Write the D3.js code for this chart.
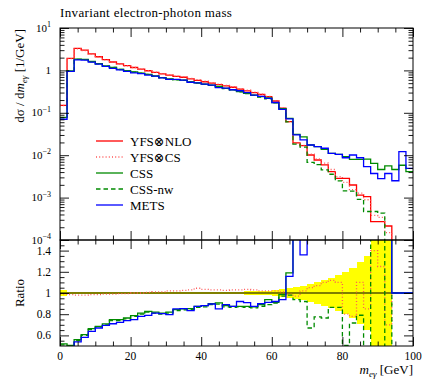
<!DOCTYPE html>
<html><head><meta charset="utf-8">
<script src="https://cdn.jsdelivr.net/npm/d3@7/dist/d3.min.js"></script>
<style>
body{margin:0;background:#fff}
svg{display:block}
text{font-family:"Liberation Serif","DejaVu Serif",serif;fill:#000}
</style>
</head><body>
<svg id="chart" width="424" height="379"></svg>
<script>
// Lower bin edges (GeV); every bin is 2 GeV wide, the last one ends at 100.
const binLow = [0,2,4,6,8,10,12,14,16,18,20,22,24,26,28,30,32,34,36,38,
  40,42,44,46,48,50,52,54,56,58,60,62,64,66,68,70,72,74,76,78,
  80,82,84,86,88,90,92,94,96,98];
const binHigh = 100;

// dσ/dm_eγ [1/GeV]
const yfsNlo = [0.15,1.93,3.3,3.0,2.45,2.1,1.8,1.58,1.42,1.29,
  1.17,1.07,0.98,0.90,0.83,0.77,0.72,0.69,0.63,0.58,
  0.54,0.50,0.46,0.43,0.40,0.36,0.33,0.30,0.27,0.24,
  0.19,0.128,0.062,0.0195,0.0168,0.0101,0.0077,0.0059,0.0041,0.00285,
  0.00285,0.00198,0.00115,0.00105,0.00027,0.00027,0.000214,0,0,0];
const yfsCs = [0.1485,1.90,3.23,2.94,2.41,2.07,1.78,1.56,1.41,1.28,
  1.17,1.07,0.985,0.909,0.838,0.785,0.734,0.707,0.649,0.606,
  0.559,0.515,0.474,0.441,0.412,0.371,0.342,0.309,0.275,0.245,
  0.194,0.129,0.0614,0.0189,0.0171,0.0106,0.0082,0.0065,0.0046,0.00314,
  0.00228,0.00154,0.00127,0.00089,0.00038,0.00034,0.00015,0,0,0];
const css = [0.078,0.977,1.85,1.82,1.63,1.44,1.27,1.18,1.06,0.986,
  0.92,0.867,0.81,0.738,0.672,0.631,0.607,0.587,0.537,0.507,
  0.475,0.45,0.417,0.378,0.35,0.315,0.288,0.261,0.24,0.225,
  0.173,0.126,0.074,0.031,0.027,0.0174,0.0159,0.0137,0.0111,0.0105,
  0.0092,0.0080,0.0080,0.0081,0.0064,0.0046,0.0056,0.0046,0.0058,0.0041];
const cssNw = [0.0765,0.965,1.815,1.80,1.60,1.43,1.26,1.17,1.05,0.974,
  0.913,0.856,0.804,0.729,0.664,0.624,0.601,0.580,0.532,0.502,
  0.470,0.445,0.412,0.374,0.346,0.313,0.285,0.258,0.236,0.214,
  0.172,0.124,0.0608,0.0183,0.0155,0.0068,0.0060,0.0045,0.00355,0.00247,
  0.00144,0.00142,0.00091,0.00047,0.00047,0.00043,0.00004,0,0,0];
const mets = [0.0705,0.946,1.78,1.75,1.56,1.41,1.25,1.12,1.03,0.953,
  0.876,0.835,0.773,0.729,0.668,0.613,0.612,0.589,0.525,0.507,
  0.475,0.448,0.391,0.383,0.35,0.331,0.30,0.262,0.243,0.219,
  0.175,0.12,0.0717,0.030,0.0229,0.0174,0.0159,0.0146,0.0111,0.0105,
  0.0087,0.0101,0.0087,0.0054,0.0037,0.0028,0.0037,0.0025,0.0121,0.0049];

// Ratios to YFS⊗NLO (bins where the reference is empty are shown at 1)
const ratioYfsCs = [0.99,0.985,0.98,0.98,0.985,0.985,0.99,0.99,0.995,0.995,
  1.0,1.0,1.005,1.01,1.01,1.02,1.02,1.025,1.03,1.045,
  1.035,1.03,1.03,1.025,1.03,1.03,1.035,1.03,1.02,1.02,
  1.02,1.01,0.99,0.97,1.02,1.05,1.07,1.1,1.12,1.1,
  0.8,0.78,1.1,0.85,1.4,1.25,0.7,1,1,1];
const ratioCss = [0.52,0.506,0.56,0.607,0.664,0.686,0.708,0.749,0.749,0.764,
  0.786,0.81,0.827,0.82,0.81,0.82,0.843,0.85,0.853,0.874,
  0.88,0.9,0.906,0.88,0.874,0.874,0.874,0.87,0.89,0.937,
  0.912,0.985,1.19,2,2,2,2,2,2,2,
  2,2,2,2,2,2,2,1,1,1];
const ratioCssNw = [0.51,0.50,0.55,0.60,0.655,0.68,0.70,0.74,0.74,0.755,
  0.78,0.80,0.82,0.81,0.80,0.81,0.835,0.84,0.845,0.865,
  0.87,0.89,0.895,0.87,0.865,0.87,0.865,0.86,0.875,0.89,
  0.905,0.97,0.98,0.937,0.92,0.67,0.774,0.764,0.865,0.865,
  0.506,0.717,0.79,0.45,2,2,0.2,1,1,1];
const ratioMets = [0.47,0.49,0.538,0.582,0.638,0.67,0.695,0.71,0.723,0.739,
  0.749,0.78,0.789,0.81,0.805,0.796,0.85,0.853,0.834,0.874,
  0.88,0.896,0.85,0.89,0.874,0.92,0.91,0.874,0.9,0.912,
  0.92,0.937,1.157,2,1.36,2,2,2,2,2,
  2,2,2,2,2,2,2,1,1,1];
// Half-width of the YFS⊗NLO uncertainty band in the ratio
const bandHalf = [0.027,0.012,0.01,0.01,0.01,0.01,0.01,0.01,0.01,0.01,
  0.01,0.01,0.01,0.01,0.01,0.01,0.01,0.01,0.01,0.01,
  0.012,0.012,0.012,0.012,0.012,0.012,0.015,0.015,0.015,0.02,
  0.025,0.035,0.05,0.06,0.07,0.085,0.1,0.12,0.14,0.17,
  0.2,0.24,0.29,0.35,1,1,1,0,0,0];

const xMajor = [0,20,40,60,80,100];
const xMinor = [5,10,15,25,30,35,45,50,55,65,70,75,85,90,95];
const yDecades = [1e-4,1e-3,1e-2,1e-1,1,10];
const rMajor = [0.6,0.8,1,1.2,1.4];
const rLabels = ["0.6","0.8","1","1.2","1.4"];

const series = [
  {name:"YFS⊗NLO", top:yfsNlo, ratio:null, color:"#ff0000", dash:null},
  {name:"YFS⊗CS", top:yfsCs, ratio:ratioYfsCs, color:"#ff5555", dash:"1,2.2"},
  {name:"CSS", top:css, ratio:ratioCss, color:"#008a00", dash:null},
  {name:"CSS-nw", top:cssNw, ratio:ratioCssNw, color:"#008a00", dash:"4.5,3"},
  {name:"METS", top:mets, ratio:ratioMets, color:"#0000ff", dash:null}
];

const L = 60, R = 413, T = 28, M = 240, B = 346;
const svg = d3.select("#chart");
const x = d3.scaleLinear().domain([0, 100]).range([L, R]);
const y = d3.scaleLog().domain([1e-4, 10]).range([M, T]);
const yr = d3.scaleLinear().domain([0.5, 1.5]).range([B, M]);

const defs = svg.append("defs");
defs.append("clipPath").attr("id","clipTop").append("rect")
  .attr("x", L).attr("y", T).attr("width", R - L).attr("height", M - T);
defs.append("clipPath").attr("id","clipRatio").append("rect")
  .attr("x", L).attr("y", M).attr("width", R - L).attr("height", B - M);

function stepPoints(vals) {
  const pts = binLow.map((lo, i) => [lo, vals[i]]);
  pts.push([binHigh, vals[vals.length - 1]]);
  return pts;
}
const topLine = d3.line()
  .x(d => x(d[0]))
  .y(d => d[1] > 0 ? y(d[1]) : M + 60)
  .curve(d3.curveStepAfter);
const ratioLine = d3.line()
  .x(d => x(d[0]))
  .y(d => yr(d[1]))
  .curve(d3.curveStepAfter);

// ---- main panel ----
const gTop = svg.append("g").attr("clip-path","url(#clipTop)");
series.forEach(s => {
  gTop.append("path")
    .attr("d", topLine(stepPoints(s.top)))
    .attr("fill","none").attr("stroke", s.color).attr("stroke-width", 1.3)
    .attr("stroke-dasharray", s.dash);
});

// ---- ratio panel ----
const gRat = svg.append("g").attr("clip-path","url(#clipRatio)");
gRat.selectAll("rect.band").data(binLow).join("rect")
  .attr("class","band")
  .attr("x", d => x(d))
  .attr("width", (d) => x(d + 2) - x(d))
  .attr("y", (d, i) => yr(1 + bandHalf[i]))
  .attr("height", (d, i) => yr(1 - bandHalf[i]) - yr(1 + bandHalf[i]))
  .attr("fill", "#ffff00")
  .attr("shape-rendering","crispEdges");
gRat.append("line")
  .attr("x1", x(0)).attr("x2", x(100)).attr("y1", yr(1)).attr("y2", yr(1))
  .attr("stroke","#000").attr("stroke-width",1.2);
series.filter(s => s.ratio).forEach(s => {
  gRat.append("path")
    .attr("d", ratioLine(stepPoints(s.ratio)))
    .attr("fill","none").attr("stroke", s.color).attr("stroke-width", 1.3)
    .attr("stroke-dasharray", s.dash);
});

// ---- frames and ticks ----
function ticks(axisFn, scale, values, size, transform) {
  const g = svg.append("g").attr("transform", transform)
    .call(axisFn(scale).tickValues(values).tickSize(-size).tickFormat(""));
  g.select(".domain").remove();
  g.selectAll("line").attr("stroke","#000").attr("stroke-width",0.9);
}
const yMinor = [];
yDecades.slice(0, -1).forEach(d => { for (let k = 2; k <= 9; k++) yMinor.push(d * k); });
const rMinor = [0.55,0.65,0.7,0.75,0.85,0.9,0.95,1.05,1.1,1.15,1.25,1.3,1.35,1.45];

// main panel ticks
ticks(d3.axisLeft, y, yDecades, 9, `translate(${L},0)`);
ticks(d3.axisLeft, y, yMinor, 4.5, `translate(${L},0)`);
ticks(d3.axisRight, y, yDecades, 9, `translate(${R},0)`);
ticks(d3.axisRight, y, yMinor, 4.5, `translate(${R},0)`);
ticks(d3.axisTop, x, xMajor, 9, `translate(0,${T})`);
ticks(d3.axisTop, x, xMinor, 4.5, `translate(0,${T})`);
ticks(d3.axisBottom, x, xMajor, 9, `translate(0,${M})`);
ticks(d3.axisBottom, x, xMinor, 4.5, `translate(0,${M})`);
// ratio panel ticks
ticks(d3.axisLeft, yr, rMajor, 9, `translate(${L},0)`);
ticks(d3.axisLeft, yr, rMinor, 4.5, `translate(${L},0)`);
ticks(d3.axisRight, yr, rMajor, 9, `translate(${R},0)`);
ticks(d3.axisRight, yr, rMinor, 4.5, `translate(${R},0)`);
ticks(d3.axisTop, x, xMajor, 9, `translate(0,${M})`);
ticks(d3.axisTop, x, xMinor, 4.5, `translate(0,${M})`);
ticks(d3.axisBottom, x, xMajor, 9, `translate(0,${B})`);
ticks(d3.axisBottom, x, xMinor, 4.5, `translate(0,${B})`);

svg.append("rect").attr("x", L).attr("y", T).attr("width", R - L).attr("height", M - T)
  .attr("fill","none").attr("stroke","#000").attr("stroke-width",1);
svg.append("rect").attr("x", L).attr("y", M).attr("width", R - L).attr("height", B - M)
  .attr("fill","none").attr("stroke","#000").attr("stroke-width",1);

// ---- tick labels ----
yDecades.forEach(d => {
  const e = Math.round(Math.log10(d));
  const t = svg.append("text").attr("x", L - 9).attr("y", y(d) + 3.5)
    .attr("text-anchor","end").style("font-size","11px");
  if (e === 0) { t.text("1"); }
  else {
    t.append("tspan").text("10");
    t.append("tspan").attr("dy", -4.5).style("font-size","8px").text(e < 0 ? "−" + (-e) : e);
  }
});
rMajor.forEach((v, i) => {
  svg.append("text").attr("x", L - 9).attr("y", yr(v) + 4)
    .attr("text-anchor","end").style("font-size","11.5px").text(rLabels[i]);
});
xMajor.forEach(v => {
  svg.append("text").attr("x", x(v)).attr("y", B + 14)
    .attr("text-anchor","middle").style("font-size","11.5px").text(v);
});

// ---- titles ----
svg.append("text").attr("x", L).attr("y", 17).style("font-size","13px")
  .style("letter-spacing","0.35px")
  .text("Invariant electron-photon mass");

const xl = svg.append("text").attr("x", R).attr("y", 374)
  .attr("text-anchor","end").style("font-size","13px");
xl.append("tspan").style("font-style","italic").text("m");
xl.append("tspan").attr("dy", 2.5).style("font-size","9px").style("font-style","italic").text("eγ");
xl.append("tspan").attr("dy", -2.5).text(" [GeV]");

const yl = svg.append("text").attr("transform","translate(24,29) rotate(-90)")
  .attr("text-anchor","end").style("font-size","13px");
yl.append("tspan").text("dσ / d");
yl.append("tspan").style("font-style","italic").text("m");
yl.append("tspan").attr("dy", 3).style("font-size","9px").style("font-style","italic").text("eγ");
yl.append("tspan").attr("dy", -3).text(" [1/GeV]");

svg.append("text").attr("transform",`translate(24,${yr(1)}) rotate(-90)`)
  .attr("text-anchor","middle").style("font-size","13px").text("Ratio");

// ---- legend ----
const lg = svg.append("g");
series.forEach((s, i) => {
  const yy = 141 + i * 16;
  lg.append("line").attr("x1", 96).attr("x2", 123).attr("y1", yy).attr("y2", yy)
    .attr("stroke", s.color).attr("stroke-width", 1.3).attr("stroke-dasharray", s.dash);
  lg.append("text").attr("x", 130).attr("y", yy + 4.5).style("font-size","13px").text(s.name);
});
</script>
</body></html>
